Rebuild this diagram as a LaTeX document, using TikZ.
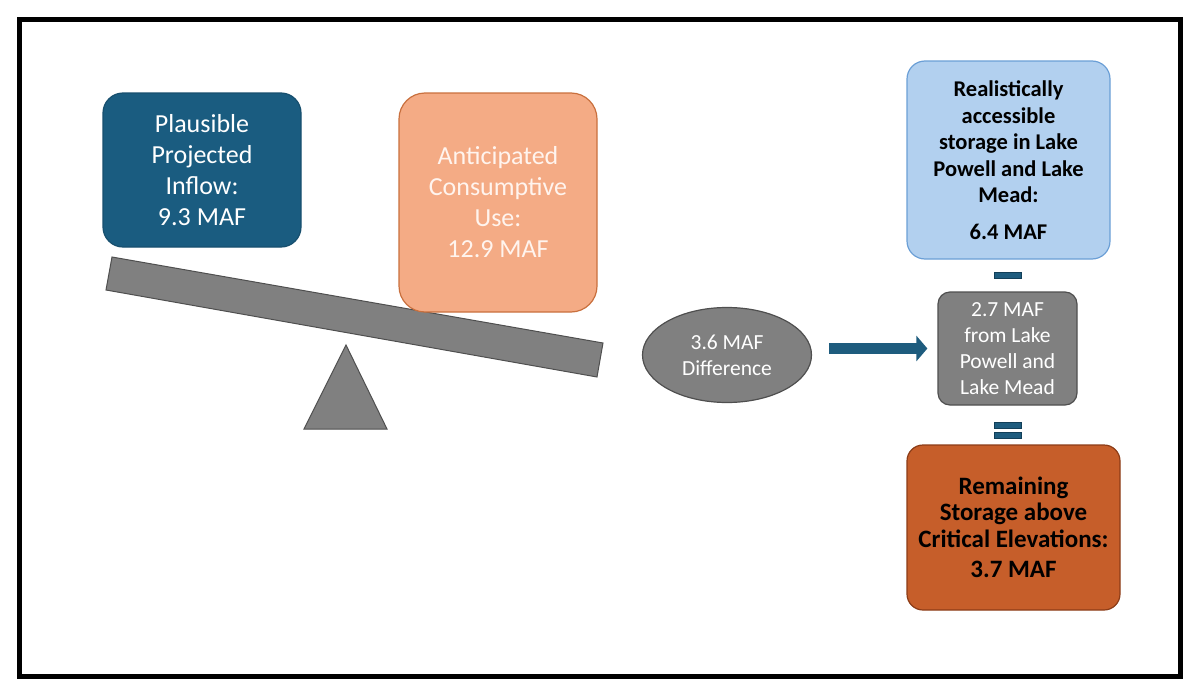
\documentclass[tikz,border=0pt]{standalone}
\usepackage{fontspec}
\setmainfont{Carlito}
\usetikzlibrary{shapes.geometric,arrows.meta}
\definecolor{inflowc}{HTML}{1A5C80}
\definecolor{inflowb}{HTML}{174F6E}
\definecolor{usec}{HTML}{F4AB85}
\definecolor{useb}{HTML}{C9703E}
\definecolor{usetext}{HTML}{FFF4EE}
\definecolor{accc}{HTML}{B2D0EF}
\definecolor{accb}{HTML}{6B9FD6}
\definecolor{remc}{HTML}{C65E2A}
\definecolor{remb}{HTML}{8C3C17}
\definecolor{grc}{HTML}{808080}
\definecolor{grb}{HTML}{4F4F4F}
\definecolor{arrc}{HTML}{1E5C7E}
\definecolor{arrb}{HTML}{123F58}
\tikzset{
  card/.style={draw, line width=1.2pt, align=center, inner sep=0pt},
  plainfont/.style={font=\fontsize{26}{31}\selectfont},
  smallfont/.style={font=\fontsize{21.5}{26}\selectfont},
  boldfont/.style={font=\fontsize{22.5}{26.5}\selectfont\bfseries},
  bigboldfont/.style={font=\fontsize{25}{26.5}\selectfont\bfseries},
  solid shape/.style={fill=grc, draw=grb, line width=1pt},
  signbar/.style={fill=arrc, draw=arrb, line width=0.8pt},
  bigarrow/.style={draw=arrc, line width=11pt, -{Triangle[length=11pt,width=25pt]}}
}
\begin{document}
\begin{tikzpicture}[x=1pt,y=-1pt]
\useasboundingbox (0,0) rectangle (1200,696);
\draw[line width=5pt] (19,19) rectangle (1180,676);

% seesaw
\draw[solid shape] (112,257) -- (603,343) -- (597,377) -- (106,290) -- cycle;
\draw[solid shape] (346,345) -- (387,429) -- (304,429) -- cycle;

\node[card, plainfont, fill=inflowc, draw=inflowb, text=white, minimum width=198pt, minimum height=154pt, rounded corners=20pt] (inflow) at (202,170) {Plausible\\Projected\\Inflow:\\9.3 MAF};

\node[card, plainfont, fill=usec, draw=useb, text=usetext, minimum width=198pt, minimum height=219pt, rounded corners=26pt] (use) at (498,202.5) {Anticipated\\Consumptive\\Use:\\12.9 MAF};

\node[card, smallfont, ellipse, fill=grc, draw=grb, text=white, minimum width=169pt, minimum height=95pt] (diff) at (727,355) {3.6 MAF\\Difference};

\node[card, smallfont, fill=grc, draw=grb, text=white, minimum width=139pt, minimum height=113pt, rounded corners=12pt] (mid) at (1007.5,348.5) {2.7 MAF\\from Lake\\Powell and\\Lake Mead};

\node[card, boldfont, fill=accc, draw=accb, text=black, minimum width=203pt, minimum height=198pt, rounded corners=18pt] (acc) at (1008.5,160) {Realistically\\accessible\\storage in Lake\\Powell and Lake\\Mead:\\[10pt]6.4 MAF};

\node[card, bigboldfont, fill=remc, draw=remb, text=black, minimum width=213pt, minimum height=165pt, rounded corners=16pt] (rem) at (1013.5,527.5) {Remaining\\Storage above\\Critical Elevations:\\[4pt]3.7 MAF};

\draw[signbar] (994,272) rectangle (1021,278);
\draw[signbar] (994,422) rectangle (1021,428);
\draw[signbar] (994,432) rectangle (1021,438);

\draw[bigarrow, shorten <=17pt, shorten >=10pt] (diff.east |- mid.west) -- (mid.west);
\end{tikzpicture}
\end{document}
